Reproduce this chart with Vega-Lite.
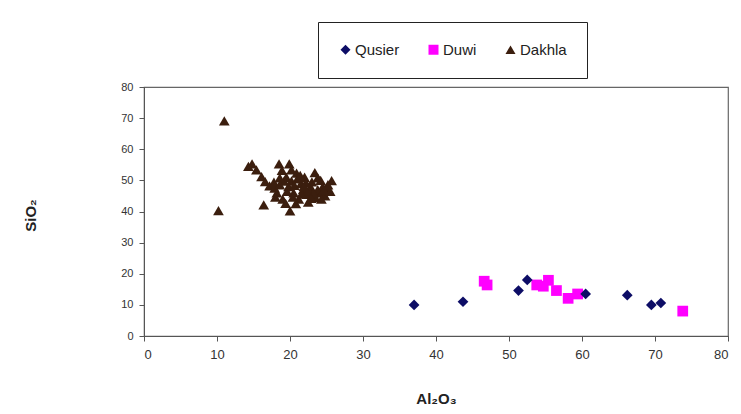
{
  "$schema": "https://vega.github.io/schema/vega-lite/v6.json",
  "autosize": {"type": "none"},
  "width": 584,
  "height": 249,
  "padding": {"left": 144, "top": 87, "right": 13, "bottom": 78},
  "background": "white",
  "config": {
    "font": "Liberation Sans",
    "view": {"stroke": "#666666", "strokeWidth": 1.2},
    "axis": {"grid": false, "domainColor": "#555555", "tickColor": "#555555", "labelColor": "#333333", "labelFontSize": 13, "titleFontSize": 15, "titleFontWeight": "bold", "titleColor": "#222222"}
  },
  "data": {
    "values": [
      {"group": "Qusier", "al2o3": 37.0, "sio2": 10.0},
      {"group": "Qusier", "al2o3": 43.7, "sio2": 11.0},
      {"group": "Qusier", "al2o3": 51.3, "sio2": 14.6},
      {"group": "Qusier", "al2o3": 52.5, "sio2": 18.0},
      {"group": "Qusier", "al2o3": 60.5, "sio2": 13.5},
      {"group": "Qusier", "al2o3": 66.2, "sio2": 13.1},
      {"group": "Qusier", "al2o3": 69.5, "sio2": 10.0},
      {"group": "Qusier", "al2o3": 70.8, "sio2": 10.6},
      {"group": "Duwi", "al2o3": 46.6, "sio2": 17.6},
      {"group": "Duwi", "al2o3": 47.0, "sio2": 16.4},
      {"group": "Duwi", "al2o3": 53.8, "sio2": 16.4},
      {"group": "Duwi", "al2o3": 54.7, "sio2": 16.0},
      {"group": "Duwi", "al2o3": 55.4, "sio2": 17.9},
      {"group": "Duwi", "al2o3": 56.5, "sio2": 14.6},
      {"group": "Duwi", "al2o3": 58.1, "sio2": 12.1},
      {"group": "Duwi", "al2o3": 59.4, "sio2": 13.5},
      {"group": "Duwi", "al2o3": 73.8, "sio2": 8.0},
      {"group": "Dakhla", "al2o3": 11.0, "sio2": 69.1},
      {"group": "Dakhla", "al2o3": 10.2, "sio2": 40.3},
      {"group": "Dakhla", "al2o3": 14.3, "sio2": 54.5},
      {"group": "Dakhla", "al2o3": 14.8, "sio2": 55.3},
      {"group": "Dakhla", "al2o3": 15.4, "sio2": 53.4},
      {"group": "Dakhla", "al2o3": 16.1, "sio2": 51.2},
      {"group": "Dakhla", "al2o3": 16.6, "sio2": 49.6},
      {"group": "Dakhla", "al2o3": 17.2, "sio2": 48.2},
      {"group": "Dakhla", "al2o3": 17.9, "sio2": 47.5},
      {"group": "Dakhla", "al2o3": 18.5, "sio2": 55.3},
      {"group": "Dakhla", "al2o3": 19.9, "sio2": 55.3},
      {"group": "Dakhla", "al2o3": 18.9, "sio2": 53.2},
      {"group": "Dakhla", "al2o3": 19.5, "sio2": 51.0},
      {"group": "Dakhla", "al2o3": 20.9, "sio2": 52.3},
      {"group": "Dakhla", "al2o3": 20.2, "sio2": 49.8},
      {"group": "Dakhla", "al2o3": 21.5, "sio2": 49.0},
      {"group": "Dakhla", "al2o3": 22.0, "sio2": 51.0},
      {"group": "Dakhla", "al2o3": 23.4, "sio2": 52.5},
      {"group": "Dakhla", "al2o3": 22.8, "sio2": 48.0},
      {"group": "Dakhla", "al2o3": 24.2, "sio2": 50.0},
      {"group": "Dakhla", "al2o3": 25.7, "sio2": 49.9},
      {"group": "Dakhla", "al2o3": 25.0, "sio2": 47.5},
      {"group": "Dakhla", "al2o3": 24.0, "sio2": 46.0},
      {"group": "Dakhla", "al2o3": 16.4, "sio2": 42.1},
      {"group": "Dakhla", "al2o3": 20.0, "sio2": 40.2},
      {"group": "Dakhla", "al2o3": 19.0, "sio2": 44.0},
      {"group": "Dakhla", "al2o3": 20.5, "sio2": 46.0},
      {"group": "Dakhla", "al2o3": 21.2, "sio2": 44.0},
      {"group": "Dakhla", "al2o3": 22.3, "sio2": 45.5},
      {"group": "Dakhla", "al2o3": 23.5, "sio2": 44.5},
      {"group": "Dakhla", "al2o3": 24.8, "sio2": 45.0},
      {"group": "Dakhla", "al2o3": 25.5, "sio2": 46.5},
      {"group": "Dakhla", "al2o3": 19.8, "sio2": 48.0},
      {"group": "Dakhla", "al2o3": 18.2, "sio2": 46.0},
      {"group": "Dakhla", "al2o3": 21.8, "sio2": 47.0},
      {"group": "Dakhla", "al2o3": 23.0, "sio2": 49.5},
      {"group": "Dakhla", "al2o3": 20.8, "sio2": 42.5},
      {"group": "Dakhla", "al2o3": 22.5, "sio2": 43.0},
      {"group": "Dakhla", "al2o3": 24.5, "sio2": 48.0},
      {"group": "Dakhla", "al2o3": 19.2, "sio2": 49.8},
      {"group": "Dakhla", "al2o3": 21.0, "sio2": 50.5},
      {"group": "Dakhla", "al2o3": 23.8, "sio2": 47.0},
      {"group": "Dakhla", "al2o3": 18.6, "sio2": 50.8},
      {"group": "Dakhla", "al2o3": 19.6, "sio2": 46.5},
      {"group": "Dakhla", "al2o3": 20.6, "sio2": 48.4},
      {"group": "Dakhla", "al2o3": 21.6, "sio2": 45.6},
      {"group": "Dakhla", "al2o3": 22.6, "sio2": 46.8},
      {"group": "Dakhla", "al2o3": 23.2, "sio2": 46.0},
      {"group": "Dakhla", "al2o3": 24.6, "sio2": 46.8},
      {"group": "Dakhla", "al2o3": 25.2, "sio2": 48.6},
      {"group": "Dakhla", "al2o3": 22.2, "sio2": 49.2},
      {"group": "Dakhla", "al2o3": 21.4, "sio2": 51.6},
      {"group": "Dakhla", "al2o3": 20.4, "sio2": 44.6},
      {"group": "Dakhla", "al2o3": 19.4, "sio2": 42.6},
      {"group": "Dakhla", "al2o3": 22.9, "sio2": 44.2},
      {"group": "Dakhla", "al2o3": 24.3, "sio2": 44.0},
      {"group": "Dakhla", "al2o3": 17.8, "sio2": 49.4},
      {"group": "Dakhla", "al2o3": 18.6, "sio2": 48.6},
      {"group": "Dakhla", "al2o3": 23.8, "sio2": 50.8},
      {"group": "Dakhla", "al2o3": 20.2, "sio2": 53.4},
      {"group": "Dakhla", "al2o3": 21.9, "sio2": 48.1},
      {"group": "Dakhla", "al2o3": 18.0, "sio2": 44.6}
    ]
  },
  "mark": {"type": "point", "filled": true, "opacity": 1, "size": 115, "strokeWidth": 0},
  "encoding": {
    "x": {
      "field": "al2o3", "type": "quantitative", "title": "Al₂O₃",
      "scale": {"domain": [0, 80], "nice": false, "zero": true},
      "axis": {"values": [0, 10, 20, 30, 40, 50, 60, 70, 80], "tickSize": 5, "labelPadding": 7, "titlePadding": 30}
    },
    "y": {
      "field": "sio2", "type": "quantitative", "title": "SiO₂",
      "scale": {"domain": [0, 80], "nice": false},
      "axis": {"values": [0, 10, 20, 30, 40, 50, 60, 70, 80], "tickSize": 5, "labelPadding": 6, "labelFontSize": 11, "titleX": -114, "titleY": 128, "titleBaseline": "middle", "titleAlign": "center"}
    },
    "color": {
      "field": "group", "type": "nominal", "title": null,
      "scale": {"domain": ["Qusier", "Duwi", "Dakhla"], "range": ["#0d0d66", "#ff00ff", "#3b1e0e"]},
      "legend": {"orient": "none", "legendX": 174, "legendY": -65, "direction": "horizontal", "strokeColor": "#222222", "padding": 20, "labelFontSize": 15, "labelColor": "#222222", "symbolSize": 100, "columnPadding": 26, "labelOffset": 2, "symbolStrokeWidth": 0}
    },
    "shape": {
      "field": "group", "type": "nominal", "title": null,
      "scale": {"domain": ["Qusier", "Duwi", "Dakhla"], "range": ["diamond", "square", "triangle-up"]}
    },
    "order": {"field": "group", "sort": "ascending"}
  }
}
